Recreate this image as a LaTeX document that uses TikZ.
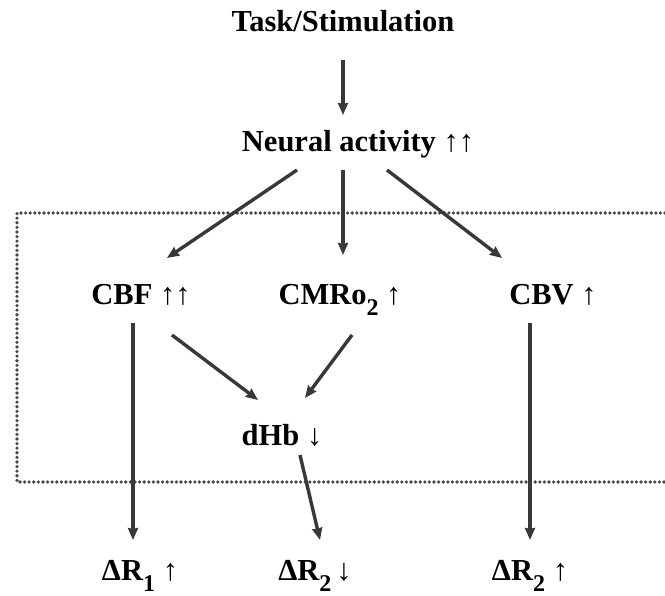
\documentclass[tikz,border=0pt]{standalone}
\usepackage{fontspec}
\setmainfont{Liberation Serif}
\usetikzlibrary{arrows.meta,calc}
\newcommand{\up}{{\mdseries ↑}}
\newcommand{\dn}{{\mdseries ↓}}
\newcommand{\sub}[1]{\raisebox{-11pt}{\fontsize{24}{24}\selectfont #1}}
\tikzset{
  lbl/.style={font=\fontsize{30.5}{32}\selectfont\bfseries, inner sep=0pt, text=black, anchor=base},
  arr/.style={line width=3.4pt, draw=black!78, -{Stealth[length=12pt,width=10pt,inset=1pt]}},
  dotline/.style={line width=3.6pt, draw=black!72, line cap=round, dash pattern=on 0pt off 4.6pt}
}
\begin{document}
\begin{tikzpicture}[x=1pt,y=-1pt]
\useasboundingbox (0,0) rectangle (665,596);
\fill[white] (0,0) rectangle (665,596);
\draw[dotline] (665,213) -- (17,213) -- (17,482) -- (665,482);
\node[lbl] (task) at (343,32) {Task/Stimulation};
\node[lbl] (neural) at (358,152) {Neural activity \up\up};
\node[lbl] (cbf) at (141,305) {CBF \up\up};
\node[lbl] (cmro) at (340,305) {CMRo\sub{2} \up};
\node[lbl] (cbv) at (553,305) {CBV \up};
\node[lbl] (dhb) at (282,446) {dHb \dn};
\node[lbl] (r1) at (140,580) {ΔR\sub{1} \up};
\node[lbl] (r2a) at (315,580) {ΔR\sub{2}\,\dn};
\node[lbl] (r2b) at (530,580) {ΔR\sub{2} \up};
\draw[arr] ([yshift=-28pt]task.base) -- ([xshift=-15pt,yshift=37pt]neural.base);
\draw[arr] ([xshift=-61pt,yshift=-18pt]neural.base) -- ([xshift=26pt,yshift=47pt]cbf.base);
\draw[arr] ([xshift=-15pt,yshift=-18pt]neural.base) -- ([xshift=3pt,yshift=50pt]cmro.base);
\draw[arr] ([xshift=29pt,yshift=-18pt]neural.base) -- ([xshift=-51pt,yshift=47pt]cbv.base);
\draw[arr] ([xshift=-8pt,yshift=-18pt]cbf.base) -- ([xshift=-7pt,yshift=40pt]r1.base);
\draw[arr] ([xshift=31pt,yshift=-30pt]cbf.base) -- ([xshift=-24pt,yshift=46pt]dhb.base);
\draw[arr] ([xshift=12pt,yshift=-30pt]cmro.base) -- ([xshift=23pt,yshift=48pt]dhb.base);
\draw[arr] ([xshift=18pt,yshift=-9pt]dhb.base) -- ([xshift=5pt,yshift=40pt]r2a.base);
\draw[arr] ([xshift=-23pt,yshift=-18pt]cbv.base) -- ([xshift=0pt,yshift=40pt]r2b.base);
\end{tikzpicture}
\end{document}
